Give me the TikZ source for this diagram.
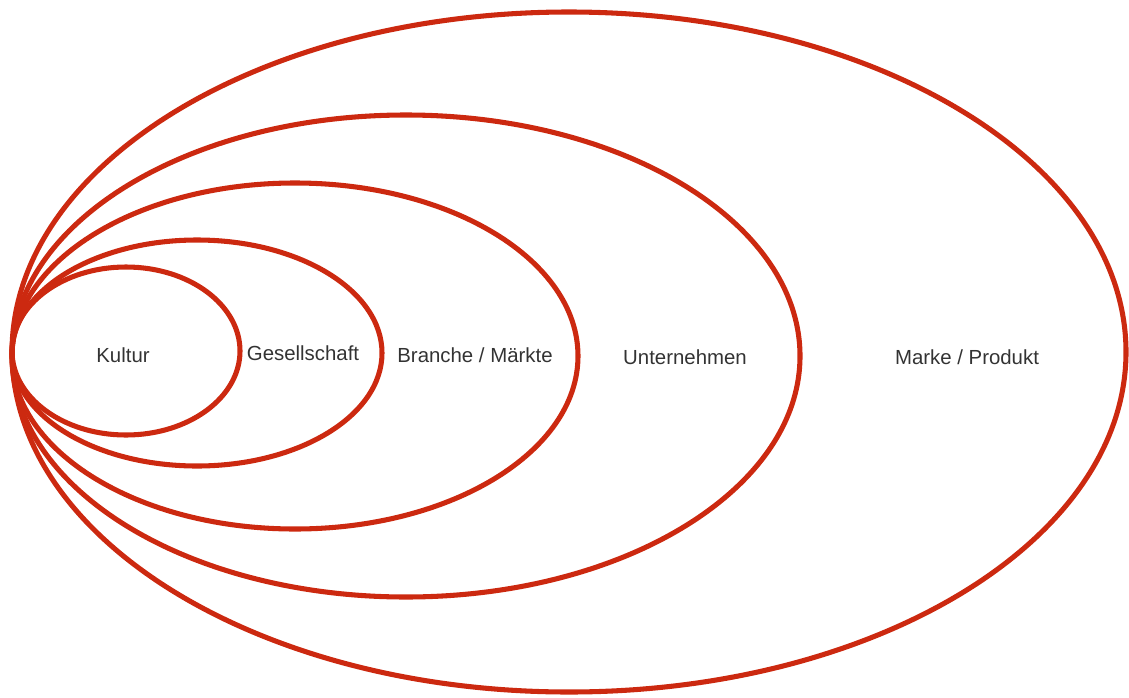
\documentclass[tikz,border=0pt]{standalone}
\usepackage{fontspec}
\setmainfont{Liberation Sans}
\usepackage{xcolor}
\usepackage{tikz}
\usetikzlibrary{positioning, calc}
\definecolor{brushred}{RGB}{204,41,16}
\definecolor{labelgray}{RGB}{51,51,51}

\begin{document}
\begin{tikzpicture}[
  x=0.025cm, y=-0.025cm,
  ring/.style={draw=brushred, line width=3.6pt},
  lbl/.style={text=labelgray, font=\fontsize{14.5}{17}\selectfont, inner sep=1pt}
]
\useasboundingbox (0,0) rectangle (1129,697);

% Nested rings (all touching on the left)
\draw[ring] (569,352) ellipse [x radius=557, y radius=340];
\draw[ring] (406,356) ellipse [x radius=394, y radius=241];
\draw[ring] (295,356) ellipse [x radius=283, y radius=173];
\draw[ring] (197,353) ellipse [x radius=185, y radius=113];
\draw[ring] (126,351) ellipse [x radius=114, y radius=84];

% Labels
\node[lbl] (kultur) at (123,355) {Kultur};
\node[lbl] (gesellschaft) at (303,353) {Gesellschaft};
\node[lbl] (branche) at (475,355) {Branche / Märkte};
\node[lbl] (unternehmen) at (685,357) {Unternehmen};
\node[lbl] (marke) at (967,357) {Marke / Produkt};
\end{tikzpicture}
\end{document}
